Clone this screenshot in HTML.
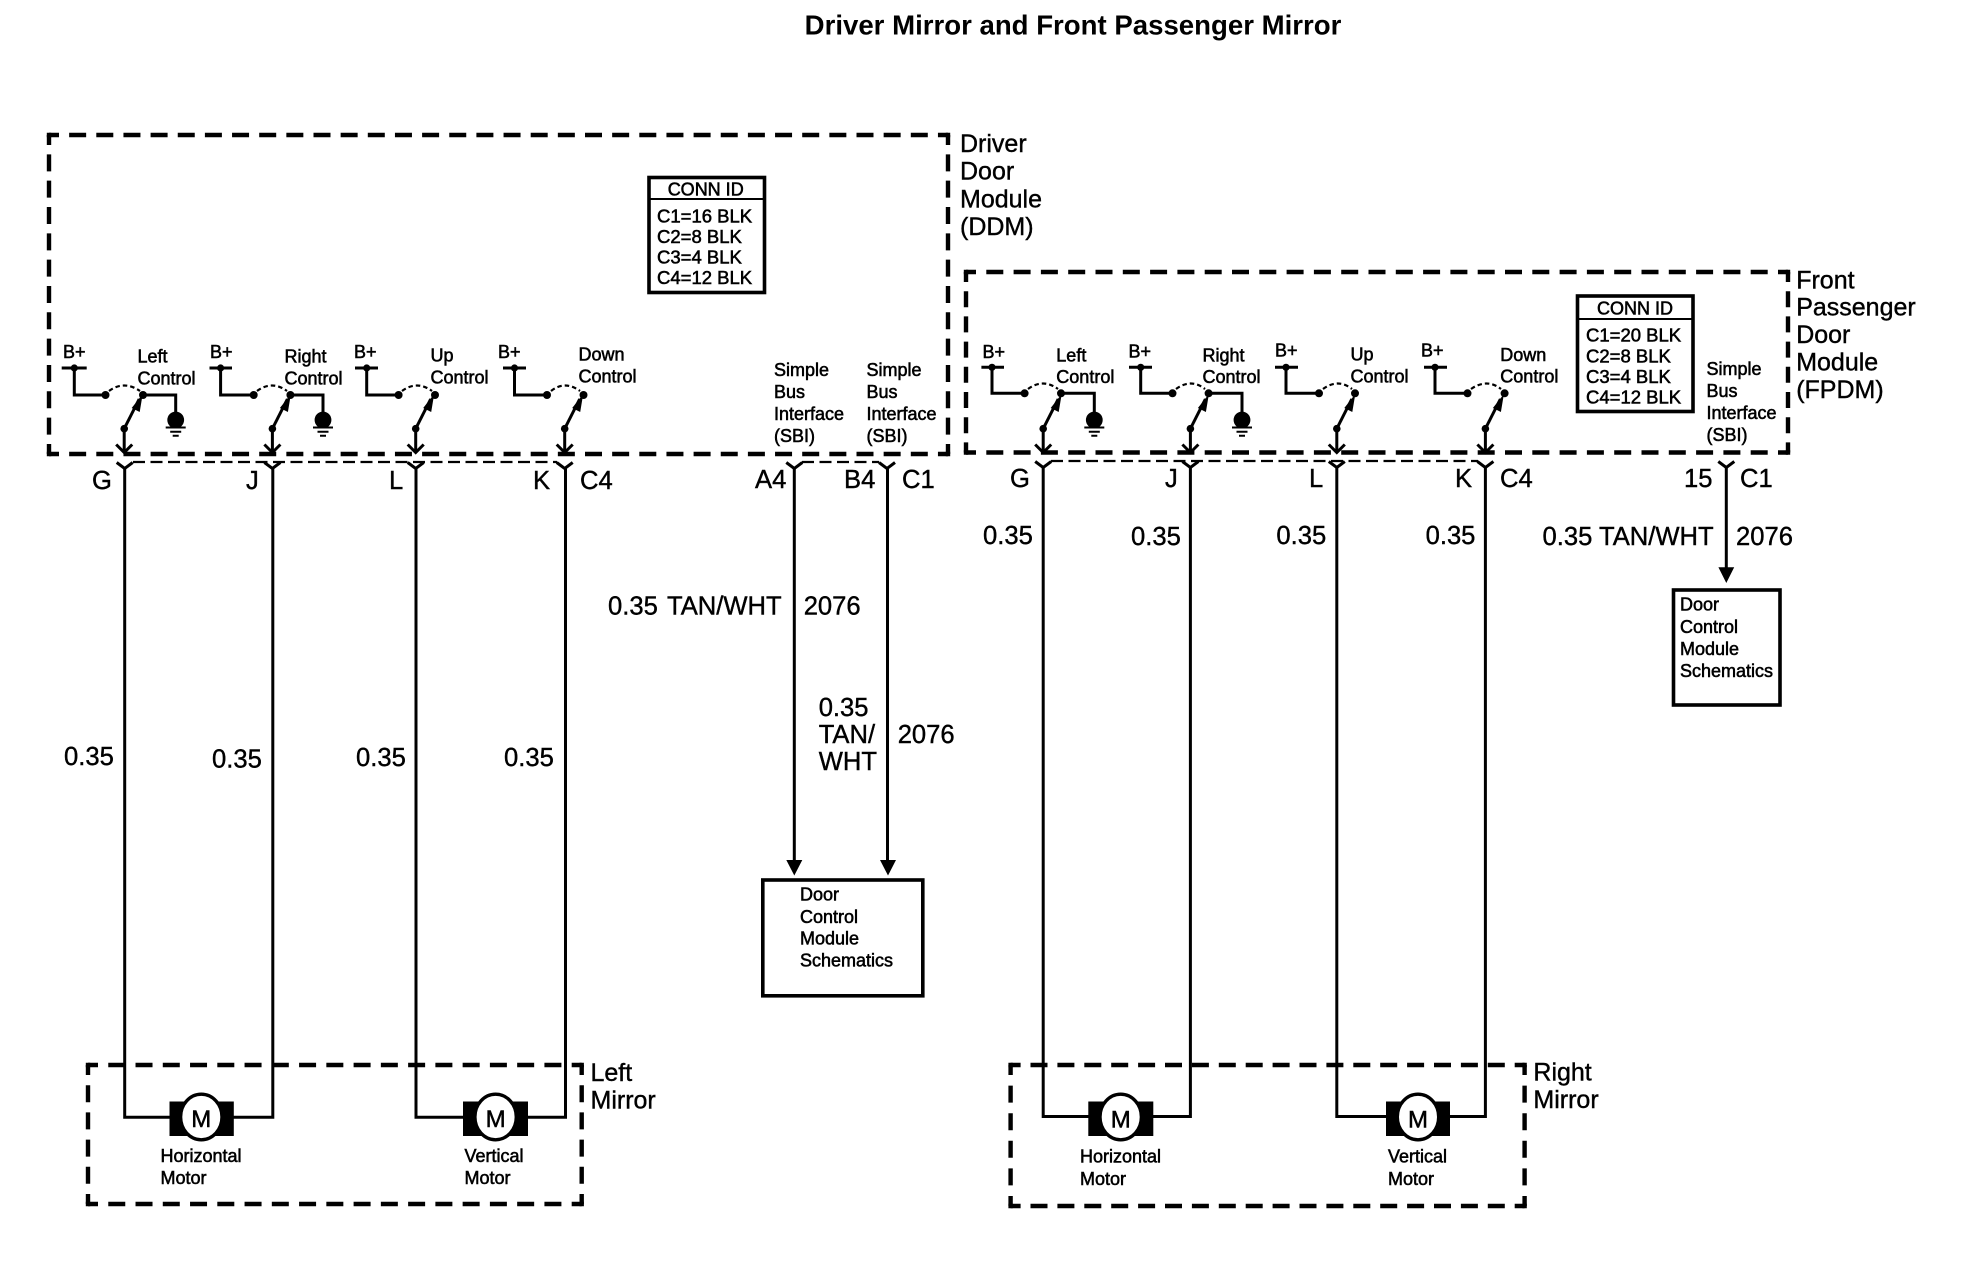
<!DOCTYPE html>
<html><head><meta charset="utf-8"><style>
html,body{margin:0;padding:0;background:#fff;width:1966px;height:1280px;overflow:hidden}
svg{display:block}
text{font-family:"Liberation Sans",sans-serif;fill:#000;stroke:#000}
.s{font-size:18px;stroke-width:.55}
.c{font-size:18.5px;stroke-width:.55}
.b{font-size:25px;stroke-width:.4}
.w{font-size:25.6px;stroke-width:.4}
.t{font-size:27.6px;font-weight:bold;stroke-width:0;text-anchor:middle}
.m{font-size:24px;stroke-width:.5;text-anchor:middle}
.d{fill:none;stroke:#000;stroke-width:4.4;stroke-dashoffset:7}
.d2{fill:none;stroke:#000;stroke-width:4.4;stroke-dashoffset:6}
.k{fill:none;stroke:#000;stroke-width:4.4;stroke-linecap:square}
.l{fill:none;stroke:#000;stroke-width:3}
.n{fill:none;stroke:#000;stroke-width:2.2;stroke-dasharray:12 5.5}
.o{fill:none;stroke:#000;stroke-width:2.2;stroke-dasharray:4.5 3}
</style></head><body>
<svg width="1966" height="1280" viewBox="0 0 1966 1280" xmlns="http://www.w3.org/2000/svg">
<defs>
<g id="y"><path class="l" d="M-8 0L0 6L8 0" /></g>
<g id="gnd"><circle cx="0" cy="420" r="8.4" fill="#000"/><path d="M-10 427.5H10M-5.5 431.7H5.5M-3 435.7H3" stroke="#000" stroke-width="2" fill="none"/></g>
<g id="blade">
<circle cx="0" cy="428.7" r="3.8" fill="#000"/>
<path class="l" d="M0 428.7L15 399"/>
<path d="M18.5 394L15.5 412L7.5 408Z" fill="#000"/>
<path class="l" d="M0 428.7V452M-8 444.5L0 452.5L8 444.5"/>
</g>
</defs>

<text class="t" x="1073" y="34.5">Driver Mirror and Front Passenger Mirror</text>

<!-- dashed boxes -->
<path class="d" stroke-dasharray="17 10.15" d="M49 135H948M49 454H948"/>
<path class="d" stroke-dasharray="17 9.33" d="M49 135V454M948 135V454"/>
<path class="k" d="M49 135h0M948 135h0M49 454h0M948 454h0"/>
<path class="d" stroke-dasharray="17 10.3" d="M966 272H1788M966 452.5H1788"/>
<path class="d2" stroke-dasharray="16 9.2" d="M966 272V452.5M1788 272V452.5"/>
<path class="k" d="M966 272h0M1788 272h0M966 452.5h0M1788 452.5h0"/>
<path class="d" stroke-dasharray="17 10.26" d="M88 1065H581.7M88 1204H581.7"/>
<path class="d" stroke-dasharray="17 10.2" d="M88 1065V1204M581.7 1065V1204"/>
<path class="k" d="M88 1065h0M581.7 1065h0M88 1204h0M581.7 1204h0"/>
<path class="d" stroke-dasharray="17 9.9" d="M1010.6 1065H1524.6M1010.6 1206H1524.6"/>
<path class="d" stroke-dasharray="17 10.6" d="M1010.6 1065V1206M1524.6 1065V1206"/>
<path class="k" d="M1010.6 1065h0M1524.6 1065h0M1010.6 1206h0M1524.6 1206h0"/>

<!-- thin connector dashes -->
<path class="n" d="M133 462H557"/>
<path class="n" d="M802 462H879"/>
<path class="n" d="M1051 461H1478"/>

<!-- switches -->
<path class="l" d="M61.7 368H86.7M74.3 368V395H105.5M143 395H175.7V412"/>
<path class="l" d="M209.5 368H232M220.6 368V395H253.7M290.4 395H323V412"/>
<path class="l" d="M355 368H378M366.7 368V395H398.6"/>
<path class="l" d="M503 368H526M514.5 368V395H547"/>
<path class="l" d="M981.4 367.3H1004M992 367.3V393.3H1024.6M1061 393.3H1094.3V412"/>
<path class="l" d="M1129 367.3H1152M1140.7 367.3V393.3H1172.5M1208.6 393.3H1242V412"/>
<path class="l" d="M1275 367.3H1298M1286 367.3V393.3H1319"/>
<path class="l" d="M1424 367.3H1447M1435 367.3V393.3H1467.5"/>
<g fill="#000">
<circle cx="74.3" cy="368" r="3.6"/><circle cx="105.5" cy="395" r="4"/><circle cx="143" cy="395" r="4"/>
<circle cx="220.6" cy="368" r="3.6"/><circle cx="253.7" cy="395" r="4"/><circle cx="290.4" cy="395" r="4"/>
<circle cx="366.7" cy="368" r="3.6"/><circle cx="398.6" cy="395" r="4"/><circle cx="435" cy="395" r="4"/>
<circle cx="514.5" cy="368" r="3.6"/><circle cx="547" cy="395" r="4"/><circle cx="583.5" cy="395" r="4"/>
<circle cx="992" cy="367.3" r="3.6"/><circle cx="1024.6" cy="393.3" r="4"/><circle cx="1061" cy="393.3" r="4"/>
<circle cx="1140.7" cy="367.3" r="3.6"/><circle cx="1172.5" cy="393.3" r="4"/><circle cx="1208.6" cy="393.3" r="4"/>
<circle cx="1286" cy="367.3" r="3.6"/><circle cx="1319" cy="393.3" r="4"/><circle cx="1355" cy="393.3" r="4"/>
<circle cx="1435" cy="367.3" r="3.6"/><circle cx="1467.5" cy="393.3" r="4"/><circle cx="1504.6" cy="393.3" r="4"/>
</g>
<path class="o" d="M109 391Q124 380 140 391M257 391Q272 380 287 391M402 391Q417 380 432 391M551 391Q565 380 580 391M1028 389Q1043 378 1058 389M1176 389Q1191 378 1205 389M1323 389Q1338 378 1352 389M1471 389Q1487 378 1501 389"/>
<use href="#blade" x="124.2"/><use href="#blade" x="272.4"/><use href="#blade" x="415.7"/><use href="#blade" x="564.7"/>
<use href="#blade" x="1043.2"/><use href="#blade" x="1190.4"/><use href="#blade" x="1336.8"/><use href="#blade" x="1485.4"/>
<use href="#gnd" x="175.7"/><use href="#gnd" x="323"/><use href="#gnd" x="1094.3"/><use href="#gnd" x="1242"/>

<!-- wires -->
<path class="l" d="M124.7 468V1117.3H170M233 1117.3H272.8V468"/>
<path class="l" d="M416 468V1117.3H464M527 1117.3H565.5V468"/>
<path class="l" d="M1043.2 467V1116.5H1089M1153 1116.5H1190.4V467"/>
<path class="l" d="M1336.8 467V1116.5H1386M1450 1116.5H1485.4V467"/>
<path class="l" d="M794.3 468V862M887.5 468V862"/>
<path class="l" d="M1726.3 467V570"/>
<path d="M786.3 860H802.3L794.3 875.5ZM880 860H896L888 875.5ZM1718.4 567.3H1734.2L1726.3 583Z" fill="#000"/>
<g>
<use href="#y" x="124.7" y="462.5"/><use href="#y" x="272.4" y="462.5"/><use href="#y" x="415.7" y="462.5"/><use href="#y" x="564.7" y="462.5"/>
<use href="#y" x="794.3" y="462.5"/><use href="#y" x="887" y="462.5"/>
<use href="#y" x="1043.2" y="461.5"/><use href="#y" x="1190.4" y="461.5"/><use href="#y" x="1336.8" y="461.5"/><use href="#y" x="1485.4" y="461.5"/>
<use href="#y" x="1726.3" y="461.5"/>
</g>

<!-- motors -->
<g fill="#000">
<rect x="169.5" y="1101.5" width="64.3" height="34.5"/><rect x="463" y="1101.5" width="65" height="34.5"/>
<rect x="1088.3" y="1101.5" width="65" height="34.5"/><rect x="1386" y="1101.5" width="64" height="34.5"/>
</g>
<g fill="#fff" stroke="#000" stroke-width="3.4">
<ellipse cx="201.3" cy="1117" rx="20.7" ry="22.8"/><ellipse cx="495.6" cy="1117" rx="20.7" ry="22.8"/>
<ellipse cx="1120.7" cy="1117" rx="20.7" ry="22.8"/><ellipse cx="1418" cy="1117" rx="20.7" ry="22.8"/>
</g>
<text class="m" x="201.3" y="1127">M</text><text class="m" x="495.6" y="1127">M</text>
<text class="m" x="1120.7" y="1127.5">M</text><text class="m" x="1418" y="1127.5">M</text>

<!-- boxes -->
<g fill="none" stroke="#000" stroke-width="3.6">
<rect x="649" y="177.5" width="115.5" height="115"/>
<rect x="1577.5" y="296" width="115.5" height="115.5"/>
<rect x="762.8" y="880" width="160" height="115.8"/>
<rect x="1673.5" y="590" width="106.5" height="115"/>
</g>
<path d="M649 199H764.5M1577.5 319H1693" stroke="#000" stroke-width="2" fill="none"/>

<!-- switch labels -->
<text class="s" x="63" y="358">B+</text><text class="s" x="210" y="358">B+</text><text class="s" x="354" y="358">B+</text><text class="s" x="498" y="358">B+</text>
<text class="s" x="137.5" y="362.5">Left</text><text class="s" x="137.5" y="384.5">Control</text>
<text class="s" x="284.5" y="362.5">Right</text><text class="s" x="284.5" y="384.5">Control</text>
<text class="s" x="430.5" y="361.5">Up</text><text class="s" x="430.5" y="383.5">Control</text>
<text class="s" x="578.5" y="360.5">Down</text><text class="s" x="578.5" y="382.5">Control</text>
<text class="s" x="982.5" y="358">B+</text><text class="s" x="1128.5" y="357.5">B+</text><text class="s" x="1275" y="356.5">B+</text><text class="s" x="1421" y="356.5">B+</text>
<text class="s" x="1056.3" y="361.5">Left</text><text class="s" x="1056.3" y="383">Control</text>
<text class="s" x="1202.5" y="361.5">Right</text><text class="s" x="1202.5" y="383">Control</text>
<text class="s" x="1350.5" y="360.5">Up</text><text class="s" x="1350.5" y="382.5">Control</text>
<text class="s" x="1500.3" y="361">Down</text><text class="s" x="1500.3" y="382.5">Control</text>
<!-- SBI -->
<text class="s" x="774" y="376">Simple</text><text class="s" x="774" y="398">Bus</text><text class="s" x="774" y="420">Interface</text><text class="s" x="774" y="442">(SBI)</text>
<text class="s" x="866.5" y="376">Simple</text><text class="s" x="866.5" y="398">Bus</text><text class="s" x="866.5" y="420">Interface</text><text class="s" x="866.5" y="442">(SBI)</text>
<text class="s" x="1706.5" y="375">Simple</text><text class="s" x="1706.5" y="397">Bus</text><text class="s" x="1706.5" y="419">Interface</text><text class="s" x="1706.5" y="441">(SBI)</text>
<!-- CONN -->
<text class="s" x="705.7" y="195.5" text-anchor="middle">CONN ID</text>
<text class="c" x="657" y="222.5">C1=16 BLK</text><text class="c" x="657" y="243">C2=8 BLK</text><text class="c" x="657" y="263.5">C3=4 BLK</text><text class="c" x="657" y="284">C4=12 BLK</text>
<text class="s" x="1635" y="314.5" text-anchor="middle">CONN ID</text>
<text class="c" x="1586" y="341.5">C1=20 BLK</text><text class="c" x="1586" y="362.5">C2=8 BLK</text><text class="c" x="1586" y="383">C3=4 BLK</text><text class="c" x="1586" y="403.5">C4=12 BLK</text>
<!-- DCM -->
<text class="s" x="800" y="900.5">Door</text><text class="s" x="800" y="923">Control</text><text class="s" x="800" y="944.5">Module</text><text class="s" x="800" y="966.5">Schematics</text>
<text class="s" x="1680" y="610.5">Door</text><text class="s" x="1680" y="633">Control</text><text class="s" x="1680" y="655">Module</text><text class="s" x="1680" y="677">Schematics</text>
<!-- motors -->
<text class="s" x="160.5" y="1162">Horizontal</text><text class="s" x="160.5" y="1184">Motor</text>
<text class="s" x="464.5" y="1162">Vertical</text><text class="s" x="464.5" y="1184">Motor</text>
<text class="s" x="1080" y="1162.5">Horizontal</text><text class="s" x="1080" y="1185">Motor</text>
<text class="s" x="1388" y="1162.5">Vertical</text><text class="s" x="1388" y="1185">Motor</text>

<!-- big labels -->
<text class="b" x="960" y="152">Driver</text><text class="b" x="960" y="179.5">Door</text><text class="b" x="960" y="207.5">Module</text><text class="b" x="960" y="235">(DDM)</text>
<text class="b" x="1796.2" y="288.5">Front</text><text class="b" x="1796.2" y="315.5">Passenger</text><text class="b" x="1796.2" y="343">Door</text><text class="b" x="1796.2" y="370.5">Module</text><text class="b" x="1796.2" y="398">(FPDM)</text>
<text class="b" x="590.5" y="1081">Left</text><text class="b" x="590.5" y="1108.5">Mirror</text>
<text class="b" x="1533.4" y="1080.5">Right</text><text class="b" x="1533.4" y="1108">Mirror</text>

<!-- pin labels -->
<text class="w" x="92" y="489">G</text><text class="w" x="246" y="489">J</text><text class="w" x="389" y="489">L</text><text class="w" x="533" y="489">K</text><text class="w" x="580" y="489">C4</text>
<text class="w" x="755" y="488">A4</text><text class="w" x="844" y="488">B4</text><text class="w" x="902" y="488">C1</text>
<text class="w" x="1010" y="487">G</text><text class="w" x="1165" y="487">J</text><text class="w" x="1309" y="487">L</text><text class="w" x="1455" y="487">K</text><text class="w" x="1500" y="487">C4</text>
<text class="w" x="1684" y="487">15</text><text class="w" x="1740" y="487">C1</text>

<!-- wire labels -->
<text class="w" x="64" y="765">0.35</text><text class="w" x="212" y="767.5">0.35</text><text class="w" x="356" y="766">0.35</text><text class="w" x="504" y="766">0.35</text>
<text class="w" x="983" y="544">0.35</text><text class="w" x="1131" y="545">0.35</text><text class="w" x="1276.4" y="544">0.35</text><text class="w" x="1425.6" y="544">0.35</text>
<text class="w" x="608" y="614.5">0.35</text><text class="w" x="667" y="614.5">TAN/WHT</text><text class="w" x="803.7" y="614.5">2076</text>
<text class="w" x="818.7" y="716">0.35</text><text class="w" x="818.7" y="743">TAN/</text><text class="w" x="818.7" y="770">WHT</text><text class="w" x="897.7" y="743">2076</text>
<text class="w" x="1542.5" y="545">0.35 TAN/WHT</text><text class="w" x="1736" y="545">2076</text>
</svg>
</body></html>
